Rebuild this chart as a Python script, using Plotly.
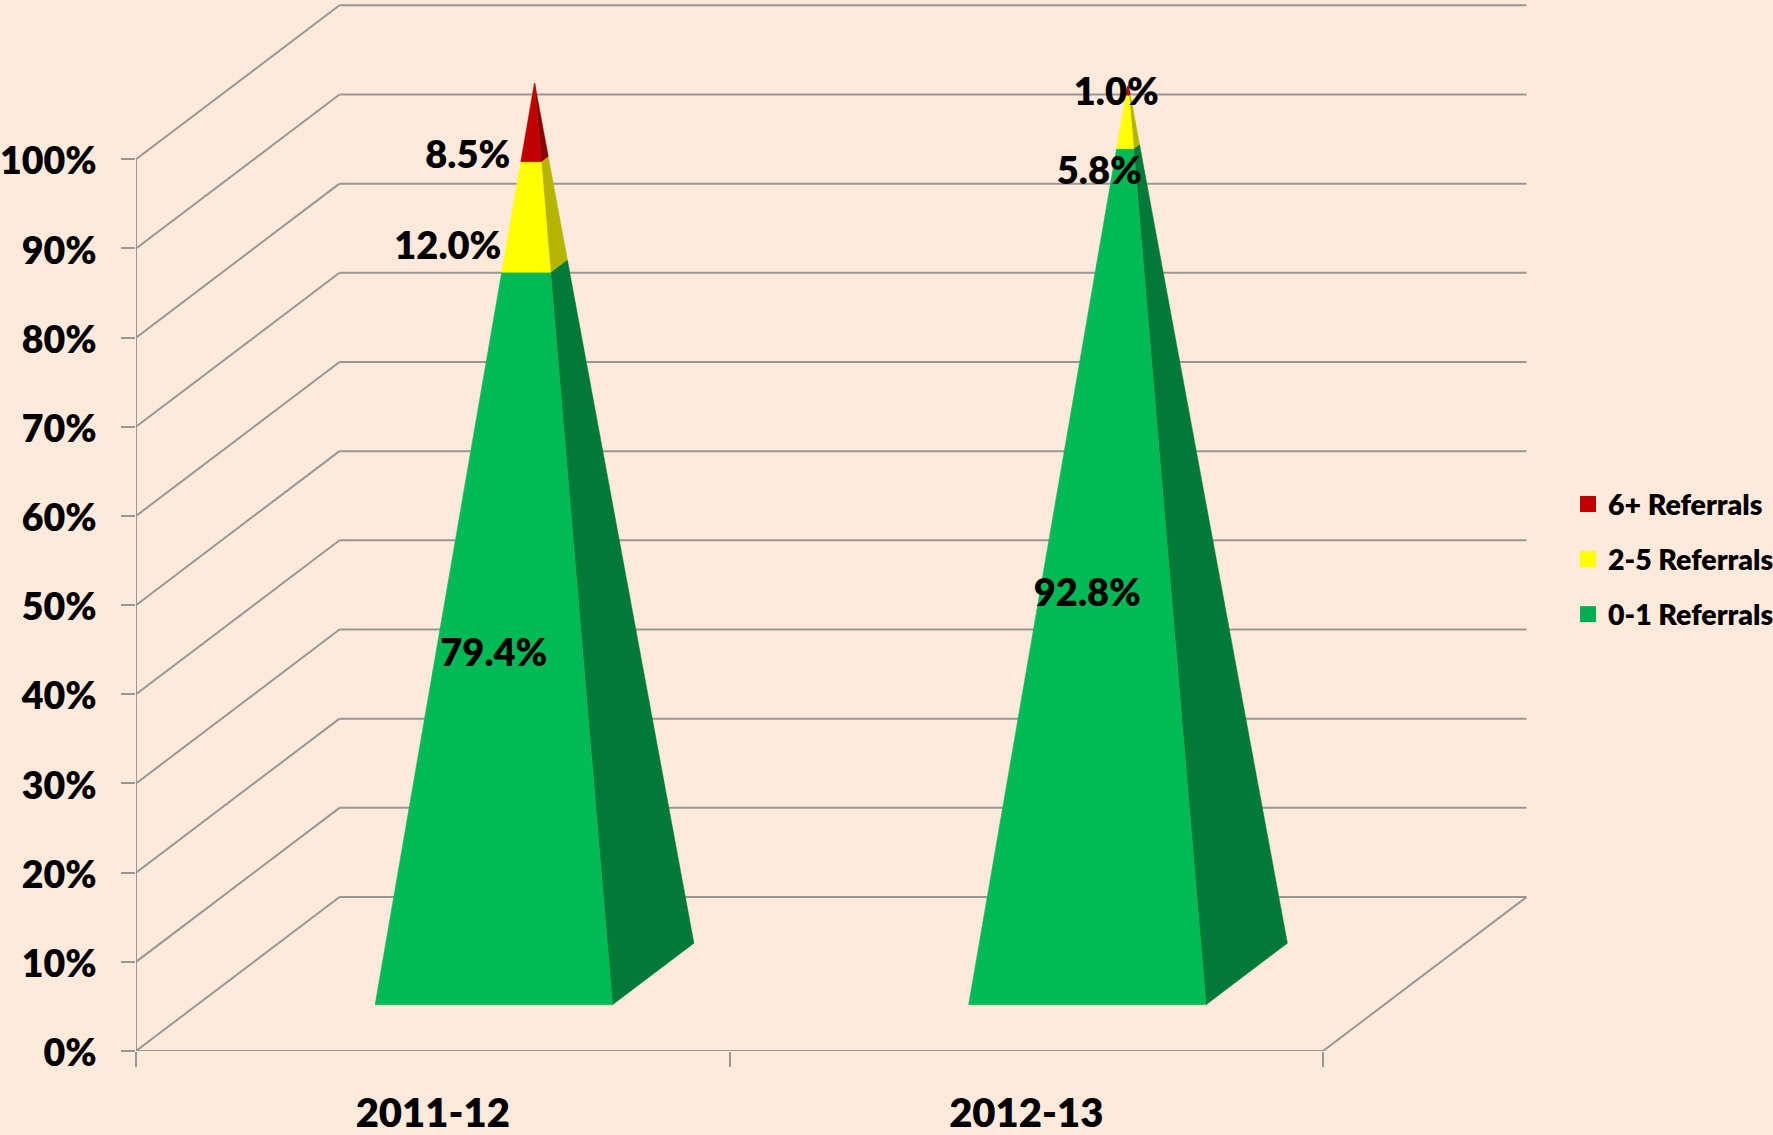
import plotly.graph_objects as go

# --- data ---
categories = ["2011-12", "2012-13"]
low_0_1 = [79.4, 92.8]
mid_2_5 = [12.0, 5.8]
high_6_plus = [8.5, 1.0]
percent_ticks = [0, 10, 20, 30, 40, 50, 60, 70, 80, 90, 100]

series_names = ["6+ Referrals", "2-5 Referrals", "0-1 Referrals"]

# --- style ---
BG = "#FDEADA"
GRID = "#979797"
FONT = "Lato"
WEIGHT = 800
FRONT = {"low": "#00BB55", "mid": "#FFFF00", "high": "#C00000"}
SIDE = {"low": "#007A36", "mid": "#B5B500", "high": "#8A0000"}
SWATCH = ["#C00000", "#FFFF00", "#00B050"]

# --- oblique projection, in axis units ---
PX_PER_CAT = 593.5
PX_PER_PCT = 8.917
DEPTH_X = 203.5 / PX_PER_CAT
DEPTH_Y = 154.0 / PX_PER_PCT
HALF = 0.2  # half base width, in category and depth fractions


def proj(u, v, d):
    return u + d * DEPTH_X, v + d * DEPTH_Y


def section(c, v):
    s = HALF * (1 - v / 100.0)
    d = 0.5 - s
    return {
        "fl": proj(c - s, v, d),
        "fr": proj(c + s, v, d),
        "br": proj(c + s, v, 0.5 + s),
    }


def polygon(pts, color):
    xs = [p[0] for p in pts] + [pts[0][0]]
    ys = [p[1] for p in pts] + [pts[0][1]]
    return go.Scatter(x=xs, y=ys, mode="lines", fill="toself", fillcolor=color,
                      line=dict(width=0.5, color=color), showlegend=False, hoverinfo="skip")


fig = go.Figure()

# walls and floor
gx, gy = [], []
for v in percent_ticks:
    for u0, v0, d0, u1, v1, d1 in [(0, v, 0, 0, v, 1), (0, v, 1, 2, v, 1)]:
        a = proj(u0, v0, d0)
        b = proj(u1, v1, d1)
        gx += [a[0], b[0], None]
        gy += [a[1], b[1], None]
for (u0, v0, d0, u1, v1, d1) in [(0, 0, 0, 0, 100, 0), (0, 0, 0, 2, 0, 0), (2, 0, 0, 2, 0, 1)]:
    a = proj(u0, v0, d0)
    b = proj(u1, v1, d1)
    gx += [a[0], b[0], None]
    gy += [a[1], b[1], None]
fig.add_trace(go.Scatter(x=gx, y=gy, mode="lines", line=dict(color=GRID, width=2),
                         showlegend=False, hoverinfo="skip"))

# pyramids
for i, cat in enumerate(categories):
    c = i + 0.5
    bottom = 0.0
    for key, vals in [("low", low_0_1), ("mid", mid_2_5), ("high", high_6_plus)]:
        top = bottom + vals[i]
        a, b = section(c, bottom), section(c, top)
        fig.add_trace(polygon([a["fr"], a["br"], b["br"], b["fr"]], SIDE[key]))
        fig.add_trace(polygon([a["fl"], a["fr"], b["fr"], b["fl"]], FRONT[key]))
        bottom = top

# data labels: pixel nudges for the ones moved off their segment centre
label_nudge_px = {(0, "mid"): (-46, 1), (0, "high"): (-26, 1), (1, "mid"): (12, 18), (1, "high"): (29, -31)}
LABEL_DROP_PX = 5.5
lx, ly, lt = [], [], []
for i in range(len(categories)):
    bottom = 0.0
    for key, vals in [("low", low_0_1), ("mid", mid_2_5), ("high", high_6_plus)]:
        x, y = proj(i + 0.5, bottom + vals[i] / 2, 0.3)
        nx, ny = label_nudge_px.get((i, key), (0, 0))
        lx.append(x + nx / PX_PER_CAT)
        ly.append(y - (ny + LABEL_DROP_PX) / PX_PER_PCT)
        lt.append(f"{vals[i]:.1f}%")
        bottom += vals[i]
fig.add_trace(go.Scatter(x=lx, y=ly, text=lt, mode="text", textposition="middle center",
                         textfont=dict(family=FONT, size=38, color="black", weight=WEIGHT),
                         showlegend=False, hoverinfo="skip", cliponaxis=False))

# legend entries
for name, col in zip(series_names, SWATCH):
    fig.add_trace(go.Scatter(x=[None], y=[None], mode="markers", name=name, legendgroup=name,
                             marker=dict(symbol="square", size=19, color=col)))

fig.update_layout(
    width=1773, height=1135,
    paper_bgcolor=BG, plot_bgcolor=BG,
    margin=dict(l=136, r=0, t=0, b=84, autoexpand=False),
    legend=dict(x=(1568 - 136) / 1637, y=1 - 479 / 1051, xanchor="left", yanchor="top",
                bgcolor="rgba(0,0,0,0)", tracegroupgap=15, itemwidth=30,
                font=dict(family=FONT, size=28.5, color="black", weight=WEIGHT)),
    xaxis=dict(range=[0, 1637 / PX_PER_CAT], tickmode="array", tickvals=[0.5, 1.5], ticktext=categories,
               automargin=False,
               showgrid=False, zeroline=False, showline=False, ticks="", ticklabelstandoff=35,
               tickfont=dict(family=FONT, size=40, color="black", weight=WEIGHT),
               minor=dict(tickmode="array", tickvals=[0, 1, 2], ticks="outside", ticklen=15,
                          tickwidth=2, tickcolor=GRID, showgrid=False)),
    yaxis=dict(range=[0, 1051 / PX_PER_PCT], tickmode="array", tickvals=percent_ticks,
               automargin=False,
               ticktext=[f"{v}%" for v in percent_ticks],
               showgrid=False, zeroline=False, showline=False, ticks="outside", ticklen=14,
               tickwidth=2, tickcolor=GRID, ticklabelstandoff=17, ticklabelshift=2,
               tickfont=dict(family=FONT, size=37.5, color="black", weight=WEIGHT)),
)

fig.write_html("out.html", config={"displayModeBar": False},
               post_script="document.body.style.margin='0';document.documentElement.style.background='%s';" % BG)
